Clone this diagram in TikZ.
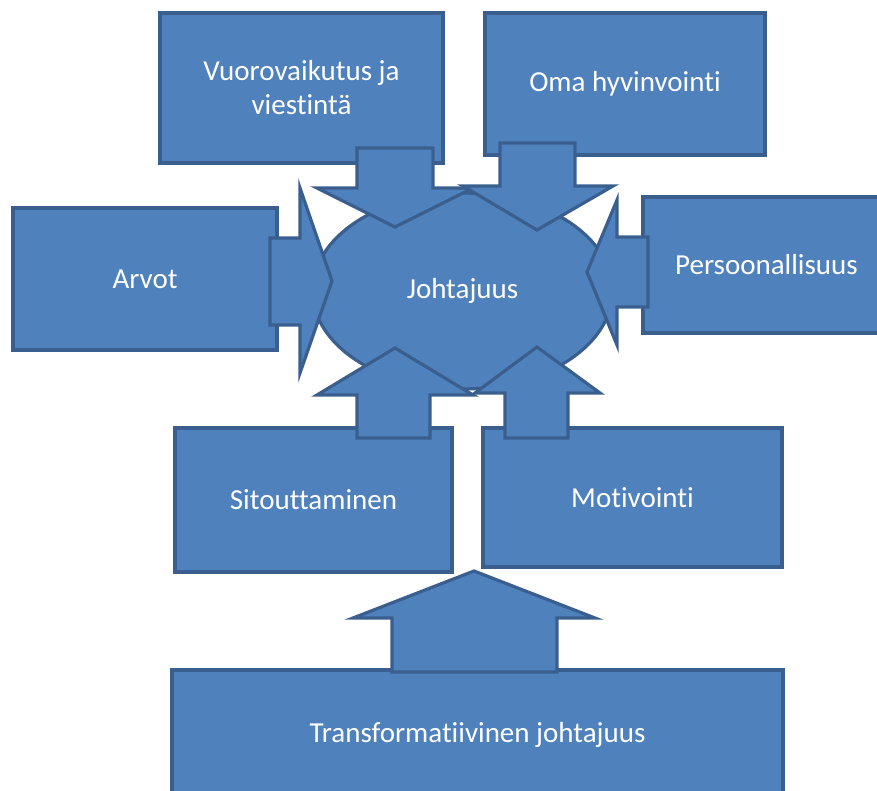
\documentclass[tikz,border=0pt]{standalone}
\usepackage{fontspec}
\setmainfont[Ligatures={NoCommon,NoContextual},RawFeature={-liga;-clig;-dlig}]{Carlito}
\usetikzlibrary{shapes.geometric}
\definecolor{fillblue}{HTML}{4F81BD}
\definecolor{lineblue}{HTML}{3A5F8E}
\begin{document}
\begin{tikzpicture}[x=1pt,y=-1pt,
  box/.style={draw=lineblue, fill=fillblue, line width=3.2pt, inner sep=0pt,
    text=white, font=\fontsize{29}{34}\selectfont, align=center},
  blockarrow/.style={draw=lineblue, fill=fillblue, line width=3.2pt, line join=miter}]
\useasboundingbox (0,0) rectangle (877,790);
\clip (0,0) rectangle (877,790);
% boxes
\node[box, minimum width=283pt, minimum height=150pt] (vuoro) at (301.5,88) {Vuorovaikutus ja\\viestintä};
\node[box, minimum width=280pt, minimum height=142pt] (oma) at (625,84) {Oma hyvinvointi};
\node[box, minimum width=264pt, minimum height=142pt] (arvot) at (145,279) {Arvot};
\node[box, minimum width=247pt, minimum height=136pt] (pers) at (766.5,265) {Persoonallisuus};
\node[box, minimum width=277pt, minimum height=144pt] (sit) at (313.5,500) {Sitouttaminen};
\node[box, minimum width=299pt, minimum height=139pt] (mot) at (632.5,497.5) {Motivointi};
\node[box, minimum width=611pt, minimum height=130pt] (trans) at (477.5,735) {Transformatiivinen johtajuus};
% centre
\node[box, ellipse, minimum width=300pt, minimum height=196pt] (lead) at (462.5,291) {Johtajuus};
% block arrows
\draw[blockarrow] (357,148) -- (433,148) -- (433,188) -- (473,188) -- (395,227) -- (317,188) -- (357,188) -- cycle;
\draw[blockarrow] (500,143) -- (575,143) -- (575,186) -- (613,186) -- (537,230) -- (463,186) -- (500,186) -- cycle;
\draw[blockarrow] (270,238) -- (300,238) -- (300,188) -- (332,281) -- (300,373) -- (300,325) -- (270,325) -- cycle;
\draw[blockarrow] (648,237) -- (617,237) -- (617,200) -- (587,272) -- (617,345) -- (617,307) -- (648,307) -- cycle;
\draw[blockarrow] (357,438) -- (357,395) -- (317,395) -- (395,348) -- (473,395) -- (430,395) -- (430,438) -- cycle;
\draw[blockarrow] (505,438) -- (505,393) -- (475,393) -- (537,347) -- (600,393) -- (568,393) -- (568,438) -- cycle;
\draw[blockarrow] (392,672) -- (392,618) -- (353,618) -- (474,571) -- (595,618) -- (557,618) -- (557,672) -- cycle;
\end{tikzpicture}
\end{document}
